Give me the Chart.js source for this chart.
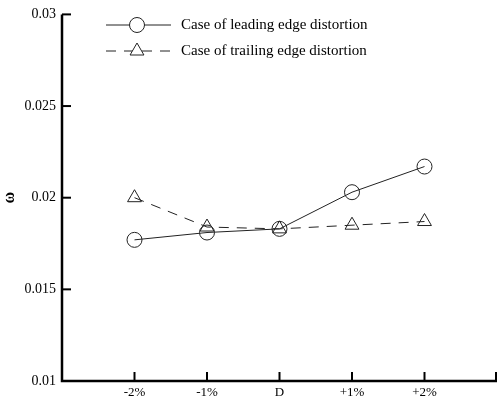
<!DOCTYPE html>
<html>
<head>
<meta charset="utf-8">
<script src="https://cdn.jsdelivr.net/npm/chart.js@4"></script>
<style>
  html, body { margin: 0; padding: 0; background: #fff; }
  #wrap { width: 497px; height: 404px; position: relative; }
</style>
</head>
<body>
<div id="wrap"><canvas id="chart"></canvas></div>
<script>
// positions along x: -2%, -1%, D, +1%, +2%
const xPositions = [-2, -1, 0, 1, 2];
const xTickLabels = ['-2%', '-1%', 'D', '+1%', '+2%'];
const yTicks = [0.01, 0.015, 0.02, 0.025, 0.03];

const leadingEdge = [0.0177, 0.0181, 0.0183, 0.0203, 0.0217];
const trailingEdge = [0.0200, 0.0184, 0.0183, 0.0185, 0.0187];

const seriesNames = ['Case of leading edge distortion', 'Case of trailing edge distortion'];

const FONT = '"Liberation Serif", "Times New Roman", serif';

const toPoints = vals => vals.map((v, i) => ({ x: xPositions[i], y: v }));

// axis lines, inward tick marks and the legend (line + marker)
const inwardTicks = {
  id: 'inwardTicks',
  afterDraw(chart) {
    const { ctx, chartArea, scales } = chart;
    ctx.save();
    ctx.strokeStyle = '#000';
    ctx.lineWidth = 2.5;
    ctx.beginPath();
    ctx.moveTo(chartArea.left, chartArea.top);
    ctx.lineTo(chartArea.left, chartArea.bottom);
    ctx.lineTo(chartArea.right, chartArea.bottom);
    ctx.stroke();
    ctx.lineWidth = 2;
    yTicks.forEach(v => {
      const y = scales.y.getPixelForValue(v);
      ctx.beginPath();
      ctx.moveTo(chartArea.left, y);
      ctx.lineTo(chartArea.left + 9, y);
      ctx.stroke();
    });
    xPositions.forEach(v => {
      const x = scales.x.getPixelForValue(v);
      ctx.beginPath();
      ctx.moveTo(x, chartArea.bottom);
      ctx.lineTo(x, chartArea.bottom - 9);
      ctx.stroke();
    });
    ctx.beginPath();
    ctx.moveTo(chartArea.right - 1, chartArea.bottom);
    ctx.lineTo(chartArea.right - 1, chartArea.bottom - 9);
    ctx.stroke();

    // legend
    const rows = [{ y: 25, ds: chart.data.datasets[0] }, { y: 51, ds: chart.data.datasets[1] }];
    rows.forEach(r => {
      ctx.strokeStyle = r.ds.borderColor;
      ctx.lineWidth = 1;
      ctx.setLineDash(r.ds.borderDash || []);
      ctx.beginPath();
      ctx.moveTo(106, r.y);
      ctx.lineTo(171, r.y);
      ctx.stroke();
      ctx.setLineDash([]);
      ctx.fillStyle = '#fff';
      Chart.helpers.drawPoint(ctx, {
        pointStyle: r.ds.pointStyle,
        radius: r.ds.pointRadius,
        borderWidth: 1
      }, 137, r.y);
      ctx.fillStyle = '#000';
      ctx.font = '15px ' + FONT;
      ctx.textBaseline = 'middle';
      ctx.textAlign = 'left';
      ctx.fillText(r.ds.label, 181, r.y);
    });
    ctx.restore();
  }
};

new Chart(document.getElementById('chart'), {
  type: 'line',
  data: {
    datasets: [
      {
        label: seriesNames[0],
        data: toPoints(leadingEdge),
        borderColor: '#222',
        borderWidth: 1,
        pointStyle: 'circle',
        pointRadius: 7.5,
        pointBorderWidth: 1,
        pointBackgroundColor: 'rgba(0,0,0,0)',
        pointBorderColor: '#222'
      },
      {
        label: seriesNames[1],
        data: toPoints(trailingEdge),
        borderColor: '#222',
        borderWidth: 1,
        borderDash: [10, 8],
        pointStyle: 'triangle',
        pointRadius: 8,
        pointBorderWidth: 1,
        pointBackgroundColor: 'rgba(0,0,0,0)',
        pointBorderColor: '#222'
      }
    ]
  },
  options: {
    responsive: true,
    maintainAspectRatio: false,
    animation: false,
    layout: { autoPadding: false, padding: { top: 12, right: 0, left: 0, bottom: 0 } },
    plugins: {
      legend: { display: false },
      tooltip: { enabled: false }
    },
    scales: {
      x: {
        type: 'linear',
        min: -3,
        max: 3,
        afterBuildTicks: s => { s.ticks = xPositions.map(v => ({ value: v })); },
        ticks: {
          color: '#000',
          font: { family: FONT, size: 13 },
          padding: 4,
          callback: v => xTickLabels[xPositions.indexOf(v)] ?? ''
        },
        grid: { display: false, drawTicks: false },
        border: { display: false },
        afterFit: s => { s.height = 23; s.paddingLeft = 0; s.paddingRight = 0; }
      },
      y: {
        min: 0.01,
        max: 0.03,
        afterBuildTicks: s => { s.ticks = yTicks.map(v => ({ value: v })); },
        ticks: {
          color: '#000',
          font: { family: FONT, size: 14 },
          padding: 6,
          callback: v => String(+v.toFixed(3))
        },
        title: {
          display: true,
          text: 'ω',
          color: '#000',
          font: { family: FONT, size: 16, weight: 'bold' },
          padding: { top: 0, bottom: 0 }
        },
        grid: { display: false, drawTicks: false },
        border: { display: false },
        afterFit: s => { s.width = 62; }
      }
    }
  },
  plugins: [inwardTicks]
});
</script>
</body>
</html>
